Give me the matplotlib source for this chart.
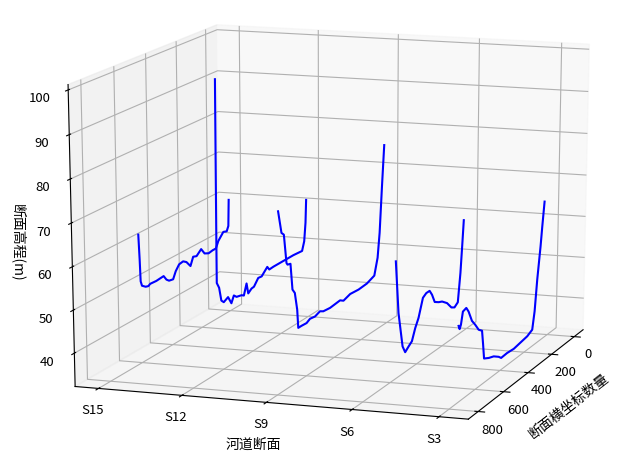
import numpy as np
import matplotlib
matplotlib.use("Agg")
import matplotlib.pyplot as plt

plt.rcParams['font.family'] = ['Noto Sans CJK SC', 'DejaVu Sans']

section_labels = ['S15', 'S12', 'S9', 'S6', 'S3']
section_pos = [3, 6, 9, 12, 15]
x_ticks = [0, 200, 400, 600, 800]
z_ticks = [40, 50, 60, 70, 80, 90, 100]

s15_x = [612,606,602,594,571,554,541,502,454,436,419,392,374,351,324,302,275,256,233,201,178,150,122,99,82,46,22,10,6]
s15_z = [62.8,56.8,51.6,50.4,49.7,49.5,49.8,49.7,49.9,48.7,48.1,47.9,49.5,50.7,50.9,50.3,48.8,50.7,50.4,51.5,50.0,49.5,49.7,49.7,51.2,52.8,52.5,53.6,60.0]
s12_x = [639,640,641,641,626,612,596,567,545,528,510,476,460,441,430,407,390,360,336,296,282,253,205,157,108,44,28,18,13]
s12_z = [100.2,82.0,62.0,53.4,52.0,48.7,48.0,48.6,46.7,48.2,47.5,47.2,46.8,49.3,46.7,47.4,47.5,49.0,48.9,50.4,49.5,49.6,49.6,49.6,49.6,49.4,51.5,55.9,61.4]
s9_x = [790,768,752,735,728,708,695,679,663,656,633,598,574,538,503,479,430,357,332,282,219,156,99,74,59,42,26]
s9_z = [74.1,68.8,68.1,61.3,60.8,60.6,54.4,53.3,49.1,44.7,44.7,44.6,45.1,44.9,45.4,44.9,44.7,45.0,44.4,45.0,44.8,45.0,45.8,49.7,55.5,66.6,76.2]
s6_x = [562,540,508,488,462,437,412,387,354,328,302,283,261,229,202,162,126,101,74,55,43,32]
s6_z = [59.7,47.2,38.7,36.9,37.7,38.4,41.0,42.9,47.0,47.6,47.6,46.3,44.1,43.4,43.0,41.8,40.0,39.5,40.2,47.0,53.3,59.4]
s3_x = [734,726,716,702,676,658,631,604,577,550,541,531,493,453,412,392,343,287,231,174,132,114,96,72,60,44]
s3_z = [49.8,48.9,49.7,52.4,52.7,51.5,48.8,47.3,45.6,44.8,41.7,37.9,37.2,36.7,35.7,35.0,35.1,34.9,35.2,35.5,36.2,40.3,47.6,55.2,59.8,65.4]

W, H = 624, 467
RW, RH = 748, 562
CX, CY = 326.5, 220
fig = plt.figure(figsize=(W/100, H/100), dpi=100)
ax = fig.add_axes([(CX-RW/2)/W, (H-CY-RH/2)/H, RW/W, RH/H], projection='3d')
ax.apply_aspect = lambda position=None: None   # stretched box, as the reference has
ax.set_box_aspect((1, 1, 1), zoom=1/1.1)
ax.set_ylim(2.15, 16, view_margin=0)
ax.set_xlim(-80, 875, view_margin=0)
ax.set_zlim(32.2, 101.2, view_margin=0)
ax.view_init(elev=15, azim=19)

ax.set_yticks(section_pos)
ax.set_yticklabels(section_labels)
ax.set_xticks(x_ticks)
ax.set_zticks(z_ticks)
ax.tick_params(axis='both', labelsize=9.5)
ax.tick_params(axis='x', pad=1)
ax.tick_params(axis='y', pad=2)
ax.tick_params(axis='z', pad=4.4)
ax.set_ylabel('河道断面', labelpad=5)
ax.set_xlabel('断面横坐标数量', labelpad=5)
ax.zaxis.set_rotate_label(False)
ax.set_zlabel('断面高程(m)', rotation=-90, labelpad=3)

for pos, xs, zs in zip(section_pos, [s15_x, s12_x, s9_x, s6_x, s3_x], [s15_z, s12_z, s9_z, s6_z, s3_z]):
    ax.plot(xs, np.full(len(xs), pos), zs, color='blue', linewidth=1.5)

fig.savefig('out.png', dpi=100)
